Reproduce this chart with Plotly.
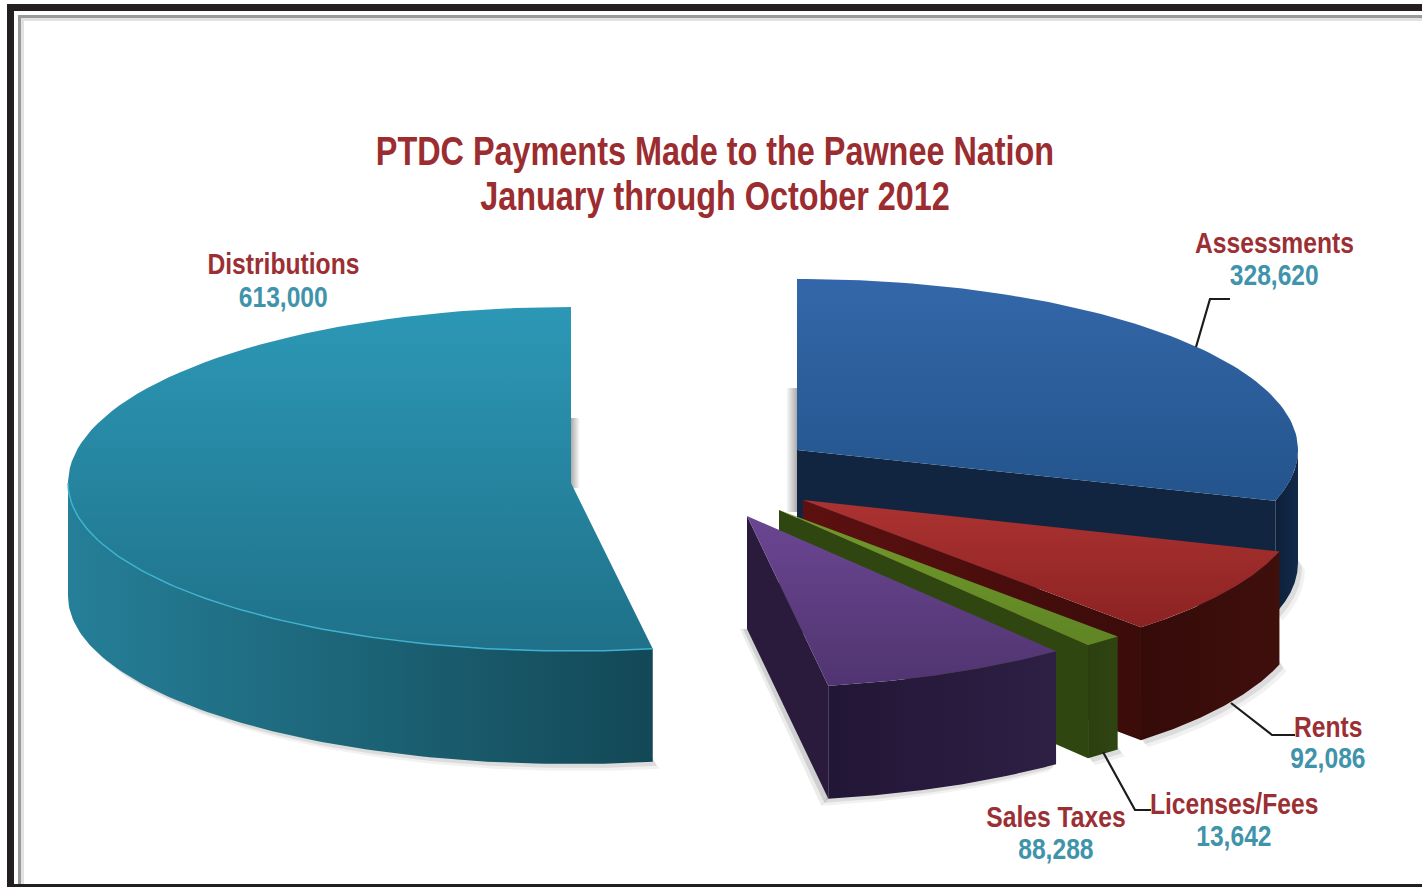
import numpy as np
import plotly.graph_objects as go

# ---- data ----
categories = ["Assessments", "Rents", "Licenses/Fees", "Sales Taxes", "Distributions"]
values = [328620, 92086, 13642, 88288, 613000]
value_labels = ["328,620", "92,086", "13,642", "88,288", "613,000"]
title_lines = ["PTDC Payments Made to the Pawnee Nation", "January through October 2012"]

# ---- geometry / style (pixels of the drawing axes) ----
W, H = 1422, 887
APEX = [(797, 450), (803, 500), (779, 510), (747, 516), (571, 483)]
RX = [501, 499, 500, 500, 503]
RY = [171, 173, 172, 172, 176]
RY_NEAR = [171, 173, 172, 172, 168]
DEPTH = 113
NEAR_STRETCH = 1.03  # foreshortening of the front half of the view

TOP = [("#3467a9", "#23548c"), ("#ab3331", "#8c2222"), ("#719a2c", "#5f8524"),
       ("#6b4692", "#503470"), ("#2c98b6", "#1f7189")]
WALL = [("#12294a", "#0d2038"), ("#3f0f0c", "#350b09"), ("#2f4511", "#2b3f0f"),
        ("#2e1f44", "#221636"), ("#257f98", "#134856")]
CUT = [("#112440", "#112440"), ("#5e1010", "#3a0c0a"), ("#2f4610", "#2f4610"),
       ("#2a1b3c", "#2a1b3c"), None]
LABEL_XY = [(1274, 243), (1328, 727), (1234, 804), (1056, 817), (283, 264)]
VALUE_DY = [31, 30, 31, 31, 32]
LEADERS = [
    "M 1196 347 L 1210 299 L 1230 299",
    "M 1231 703 L 1272 735 L 1295 735",
    "M 1103 752 L 1135 810 L 1151 810",
]
RED, TEAL = "#9b3034", "#3f93ab"
FONT = "Liberation Sans, Arial, sans-serif"
TITLE_SIZE, NAME_SIZE, VALUE_SIZE = 40, 29, 30

# ---- slice angles from the values ----
cum = np.concatenate([[0], np.cumsum(values)]) / np.sum(values) * 360
ang = np.where(cum < 180, cum * NEAR_STRETCH, cum)


def pt(i, t):
    r = np.radians(t)
    c = np.cos(r)
    return APEX[i][0] + RX[i] * np.sin(r), APEX[i][1] - np.where(c < 0, RY_NEAR[i], RY[i]) * c


def poly(fig, x, y, colors, kind="vertical", opacity=1):
    x = list(x) + [x[0]]
    y = list(y) + [y[0]]
    # the y axis runs downwards, so a vertical gradient is given bottom-first
    c = colors[::-1] if kind == "vertical" else colors
    fig.add_trace(go.Scatter(
        x=x, y=y, mode="lines", fill="toself", line=dict(width=0),
        fillgradient=dict(type=kind, colorscale=[[0, c[0]], [1, c[1]]]),
        hoverinfo="skip", showlegend=False, opacity=opacity))


fig = go.Figure()

# soft grey shadows behind the cut edges
poly(fig, [786, 797, 797, 786], [388, 388, 512, 512], ("rgba(150,150,150,0)", "rgba(150,150,150,.8)"), "horizontal")
poly(fig, [571, 580, 580, 571], [418, 418, 488, 488], ("rgba(150,150,150,.8)", "rgba(150,150,150,0)"), "horizontal")

for i in range(len(values)):
    a0, a1 = ang[i], ang[i + 1]
    t = np.linspace(a0, a1, 90)
    ax, ay = APEX[i]
    xa, ya = pt(i, t)
    lo, hi = max(a0, 90), min(a1, 270)
    tw = np.linspace(lo, hi, 90)
    xw, yw = pt(i, tw)
    # soft shadow under the visible outer wall
    for off, op in ((7, 0.10), (4, 0.18)):
        sx = off * (1 if i != 3 else -1)
        poly(fig, list(xw + sx) + list(xw[::-1]), list(yw + DEPTH + off) + list(yw[::-1] + DEPTH - 3),
             ("#777777", "#777777"), opacity=op)
    if i == 3:
        ex, ey = pt(i, a1)
        for off, op in ((7, 0.14), (4, 0.24)):
            poly(fig, [ax - off, ex - off, ex, ax],
                 [ay + DEPTH, ey + DEPTH + off, ey + DEPTH, ay + DEPTH],
                 ("#777777", "#777777"), opacity=op)
    # cut face at the end of the slice
    if CUT[i]:
        ex, ey = pt(i, a1)
        poly(fig, [ax, ex, ex, ax], [ay, ey, ey + DEPTH, ay + DEPTH], CUT[i], "horizontal")
    # outer wall
    poly(fig, list(xw) + list(xw[::-1]), list(yw) + list(yw[::-1] + DEPTH),
         WALL[i][::-1] if i != 4 else WALL[i], "horizontal")
    # top face
    poly(fig, [ax] + list(xa), [ay] + list(ya), TOP[i])

# bright rim on the large slice
tr = np.linspace(ang[4], 270, 90)
xr, yr = pt(4, tr)
fig.add_trace(go.Scatter(x=xr, y=yr, mode="lines", line=dict(color="#3fb2d0", width=1.5),
                         hoverinfo="skip", showlegend=False))

# labels
ann = []
for name, val, (lx, ly), dy in zip(categories, value_labels, LABEL_XY, VALUE_DY):
    ann.append(dict(x=lx, y=ly, text=f"<b>{name}</b>", showarrow=False,
                    font=dict(family=FONT, size=NAME_SIZE, color=RED), xref="x", yref="y"))
    ann.append(dict(x=lx, y=ly + dy, text=f"<b>{val}</b>", showarrow=False,
                    font=dict(family=FONT, size=VALUE_SIZE, color=TEAL), xref="x", yref="y"))
for line, y in zip(title_lines, (151, 196)):
    ann.append(dict(x=715, y=y, text=f"<b>{line}</b>", showarrow=False,
                    font=dict(family=FONT, size=TITLE_SIZE, color="#9b2c2f"), xref="x", yref="y"))

# frame and leader lines
shapes = [
    dict(type="rect", x0=7, x1=W, y0=4, y1=11, fillcolor="#231f20", line_width=0, layer="below"),
    dict(type="rect", x0=7, x1=14, y0=4, y1=H, fillcolor="#231f20", line_width=0, layer="below"),
    dict(type="rect", x0=7, x1=W, y0=884, y1=H, fillcolor="#231f20", line_width=0, layer="below"),
    dict(type="rect", x0=21, x1=W, y0=18, y1=21, fillcolor="#e2e2e2", line_width=0, layer="below"),
    dict(type="rect", x0=21, x1=24, y0=18, y1=884, fillcolor="#e2e2e2", line_width=0, layer="below"),
    dict(type="rect", x0=18, x1=W, y0=15, y1=18, fillcolor="#9a9a9a", line_width=0, layer="below"),
    dict(type="rect", x0=18, x1=21, y0=15, y1=884, fillcolor="#9a9a9a", line_width=0, layer="below"),
]
for p in LEADERS:
    shapes.append(dict(type="path", path=p, line=dict(color="#1c1c1c", width=2.2)))

fig.update_layout(
    width=W, height=H, margin=dict(l=0, r=0, t=0, b=0),
    paper_bgcolor="white", plot_bgcolor="white", showlegend=False,
    xaxis=dict(range=[0, W], visible=False, fixedrange=True),
    yaxis=dict(range=[H, 0], visible=False, fixedrange=True),
    annotations=ann, shapes=shapes,
)

# no narrow face is installed: condense the real text horizontally about its centre
condense = f"""
document.body.style.margin='0';document.body.style.overflow='hidden';
var k={{'{TITLE_SIZE}px':0.81,'{NAME_SIZE}px':0.85,'{VALUE_SIZE}px':0.82}};
document.querySelectorAll('.annotation-text').forEach(function(t){{
  var b=t.getBBox(),c=b.x+b.width/2,s=k[t.style.fontSize]||1,e=t.getAttribute('transform')||'';
  t.setAttribute('transform',e+' translate('+c+',0) scale('+s+',1) translate('+(-c)+',0)');
}});
"""
fig.write_html("out.html", config={"displayModeBar": False}, post_script=condense)
